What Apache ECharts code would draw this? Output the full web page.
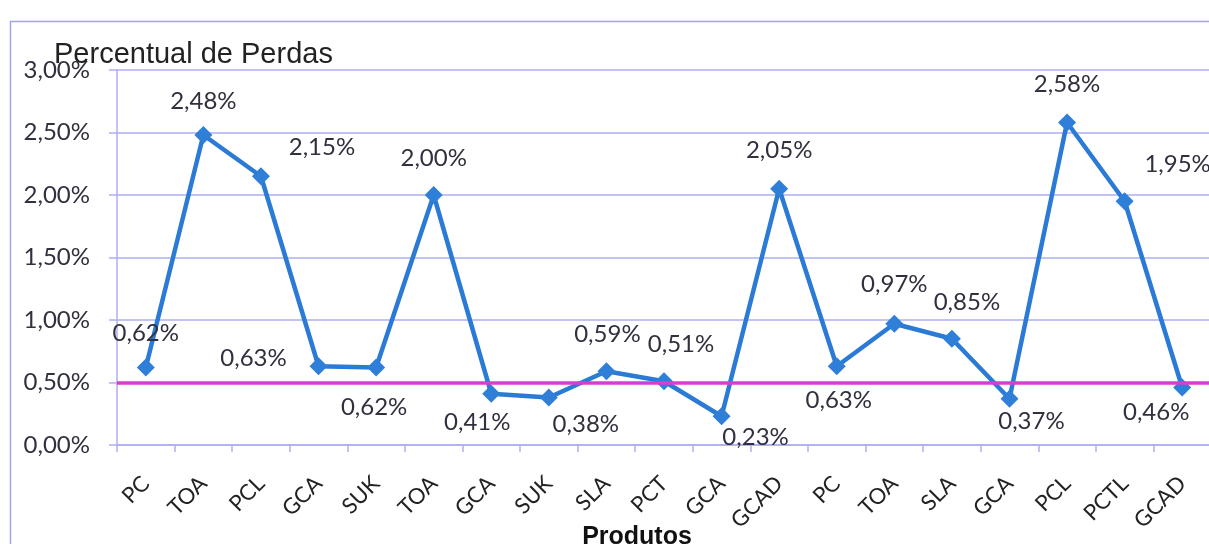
<!DOCTYPE html>
<html>
<head>
<meta charset="utf-8">
<script src="https://cdn.jsdelivr.net/npm/echarts@6/dist/echarts.min.js"></script>
<style>
  html, body { margin: 0; padding: 0; background: #ffffff; }
  #chart { width: 1209px; height: 544px; }
</style>
</head>
<body>
<div id="chart"></div>
<script>
// Produtos e percentual de perdas
const produtos = ['PC', 'TOA', 'PCL', 'GCA', 'SUK', 'TOA', 'GCA', 'SUK', 'SLA', 'PCT',
                  'GCA', 'GCAD', 'PC', 'TOA', 'SLA', 'GCA', 'PCL', 'PCTL', 'GCAD'];
const perdas = [0.62, 2.48, 2.15, 0.63, 0.62, 2.00, 0.41, 0.38, 0.59, 0.51,
                0.23, 2.05, 0.63, 0.97, 0.85, 0.37, 2.58, 1.95, 0.46];
const limite = 0.50;          // linha de referência
const eixoY = { min: 0, max: 3, passo: 0.5 };

// deslocamento de cada rótulo em relação ao seu ponto (px)
const labelOffsets = [
  [0, -34], [0, -34], [61, -29], [-65, -8], [-2, 40], [0, -37], [-14, 29], [37, 27],
  [1, -37], [17, -37], [34, 21], [0, -38], [2, 34], [0, -39], [15, -36], [22, 23],
  [0, -38], [53, -37], [-26, 25]
];

const fmt = v => v.toFixed(2).replace('.', ',') + '%';
const gridColor = '#aeaef0';
const textColor = '#30303e';
const labelFont = 'Lato, "Open Sans", sans-serif';

const chart = echarts.init(document.getElementById('chart'), null, { renderer: 'canvas' });

chart.setOption({
  backgroundColor: '#ffffff',
  animation: false,
  title: {
    text: 'Percentual de Perdas',
    left: 49,
    top: 35,
    textStyle: { fontFamily: '"Liberation Sans", Arial, sans-serif', fontWeight: 'normal', fontSize: 29, color: '#222222' }
  },
  graphic: [{
    type: 'rect',
    left: 8, top: 19,
    shape: { width: 1260, height: 600 },
    style: { fill: 'none', stroke: '#a4a4ee', lineWidth: 1.5 },
    silent: true, z: -1
  }],
  grid: { left: 117, right: -2, top: 70, bottom: 99, containLabel: false, outerBoundsMode: 'none' },
  xAxis: {
    type: 'category',
    data: produtos,
    boundaryGap: true,
    name: 'Produtos',
    nameLocation: 'middle',
    nameGap: 80,
    nameMoveOverlap: false,
    nameTextStyle: {
      fontFamily: '"Liberation Sans", Arial, sans-serif', fontWeight: 'bold', fontSize: 25,
      color: '#111111', padding: [0, 54, 0, 0]
    },
    axisLine: { lineStyle: { color: gridColor, width: 1.5 } },
    axisTick: { show: true, alignWithLabel: false, length: 7, lineStyle: { color: gridColor, width: 1.5 } },
    axisLabel: {
      rotate: 45, margin: 35, interval: 0,
      fontFamily: labelFont, fontSize: 22, color: '#222222'
    },
    splitLine: { show: false }
  },
  yAxis: {
    type: 'value',
    min: eixoY.min, max: eixoY.max, interval: eixoY.passo,
    axisLine: { show: true, lineStyle: { color: gridColor, width: 1.5 } },
    axisTick: { show: true, length: 8, lineStyle: { color: gridColor, width: 1.5 } },
    axisLabel: {
      margin: 27, fontFamily: labelFont, fontSize: 24, color: textColor,
      formatter: v => fmt(v)
    },
    splitLine: { show: true, lineStyle: { color: gridColor, width: 1.5 } }
  },
  series: [{
    type: 'line',
    data: perdas.map((v, i) => ({
      value: v,
      label: { offset: labelOffsets[i] }
    })),
    symbol: 'diamond',
    symbolSize: 18,
    lineStyle: { color: '#2b7bd6', width: 4.5 },
    itemStyle: { color: '#2f7fd8' },
    label: {
      show: true,
      position: 'inside',
      fontFamily: labelFont, fontSize: 24, color: textColor,
      formatter: p => fmt(p.value)
    },
    markLine: {
      silent: true,
      symbol: ['none', 'none'],
      label: { show: false },
      lineStyle: { color: '#d43fd0', width: 3.5, type: 'solid' },
      data: [{ yAxis: limite }]
    },
    z: 3
  }]
});
</script>
</body>
</html>
